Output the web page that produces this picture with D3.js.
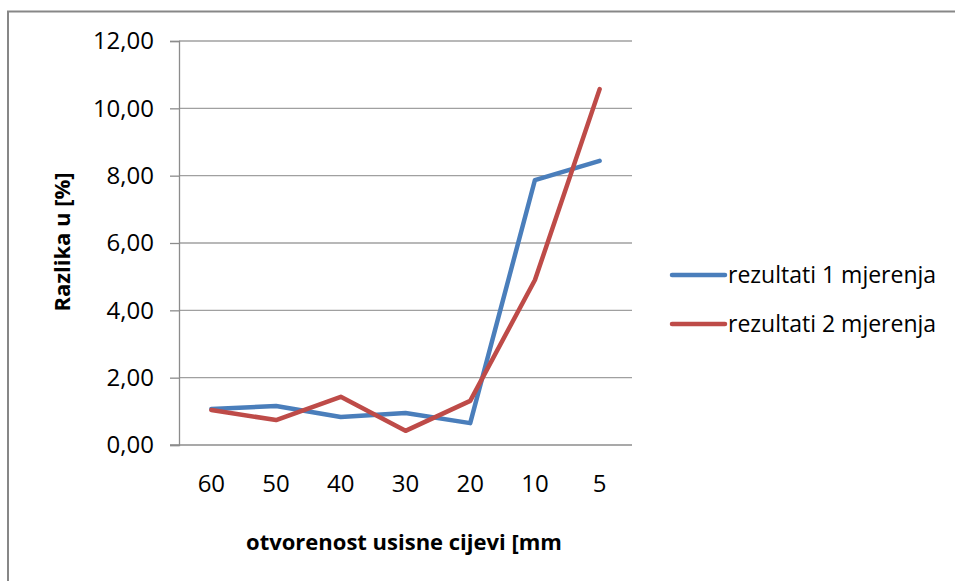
<!DOCTYPE html>
<html><head><meta charset="utf-8">
<script src="https://cdn.jsdelivr.net/npm/d3@7"></script>
<style>html,body{margin:0;padding:0;background:#fff;}svg{display:block;}text{font-family:"Open Sans",sans-serif;fill:#000;}</style>
</head><body>
<script>
const categories = ["60","50","40","30","20","10","5"];
const series1 = [1.07, 1.16, 0.83, 0.95, 0.65, 7.87, 8.44];
const series2 = [1.04, 0.74, 1.43, 0.42, 1.31, 4.90, 10.57];
const seriesNames = ["rezultati 1 mjerenja", "rezultati 2 mjerenja"];
const seriesColors = ["#4a7ebb", "#be4b48"];
const yTicks = [0, 2, 4, 6, 8, 10, 12];

const W = 955, H = 581;
const svg = d3.select("body").append("svg").attr("width", W).attr("height", H);
svg.append("rect").attr("x", 8).attr("y", 11.5).attr("width", 1000).attr("height", 1000)
  .attr("fill", "#fff").attr("stroke", "#878787").attr("stroke-width", 2);

const L = 179, R = 632, T = 41, B = 445;
const x = d3.scaleBand().domain(categories).range([L, R]);
const y = d3.scaleLinear().domain([0, 12]).range([B, T]);
const fmt = v => d3.format(".2f")(v).replace(".", ",");

// gridlines
svg.append("g").selectAll("line").data(yTicks.filter(v => v > 0)).join("line")
  .attr("x1", L).attr("x2", R).attr("y1", d => y(d)).attr("y2", d => y(d))
  .attr("stroke", "#a0a0a0").attr("stroke-width", 1.3);

// y axis
const ya = svg.append("g").attr("transform", `translate(${L},0)`)
  .call(d3.axisLeft(y).tickValues(yTicks).tickFormat(fmt).tickSize(9).tickPadding(16));
ya.select(".domain").attr("stroke", "#8c8c8c").attr("stroke-width", 1.3);
ya.selectAll(".tick line").attr("stroke", "#8c8c8c").attr("stroke-width", 1.3);
ya.selectAll("text").attr("font-size", 24).attr("font-family", "Open Sans").attr("fill", "#000");

// x axis
const xa = svg.append("g").attr("transform", `translate(0,${B})`)
  .call(d3.axisBottom(x).tickSize(0).tickPadding(30));
xa.select(".domain").attr("stroke", "#8c8c8c").attr("stroke-width", 1.3).attr("d", `M${L - 9},0H${R}`);
xa.selectAll("text").attr("font-size", 24).attr("font-family", "Open Sans").attr("fill", "#000");

// lines
const line = d3.line().x((d, i) => x(categories[i]) + x.bandwidth() / 2).y(d => y(d));
[series1, series2].forEach((s, i) => {
  svg.append("path").datum(s).attr("d", line).attr("fill", "none")
    .attr("stroke", seriesColors[i]).attr("stroke-width", 4.5)
    .attr("stroke-linejoin", "round").attr("stroke-linecap", "round");
});

// axis titles
svg.append("text").attr("x", 404).attr("y", 550).attr("text-anchor", "middle")
  .attr("font-size", 22).attr("font-weight", "bold").text("otvorenost usisne cijevi [mm");
svg.append("text").attr("transform", "translate(70,242) rotate(-90)").attr("text-anchor", "middle")
  .attr("font-size", 22).attr("font-weight", "bold").text("Razlika u [%]");

// legend
seriesNames.forEach((n, i) => {
  const ly = 275 + i * 49;
  svg.append("line").attr("x1", 672).attr("x2", 725).attr("y1", ly).attr("y2", ly)
    .attr("stroke", seriesColors[i]).attr("stroke-width", 4.5).attr("stroke-linecap", "round");
  svg.append("text").attr("x", 728).attr("y", ly + 8).attr("font-size", 23).text(n);
});
</script>
</body></html>
